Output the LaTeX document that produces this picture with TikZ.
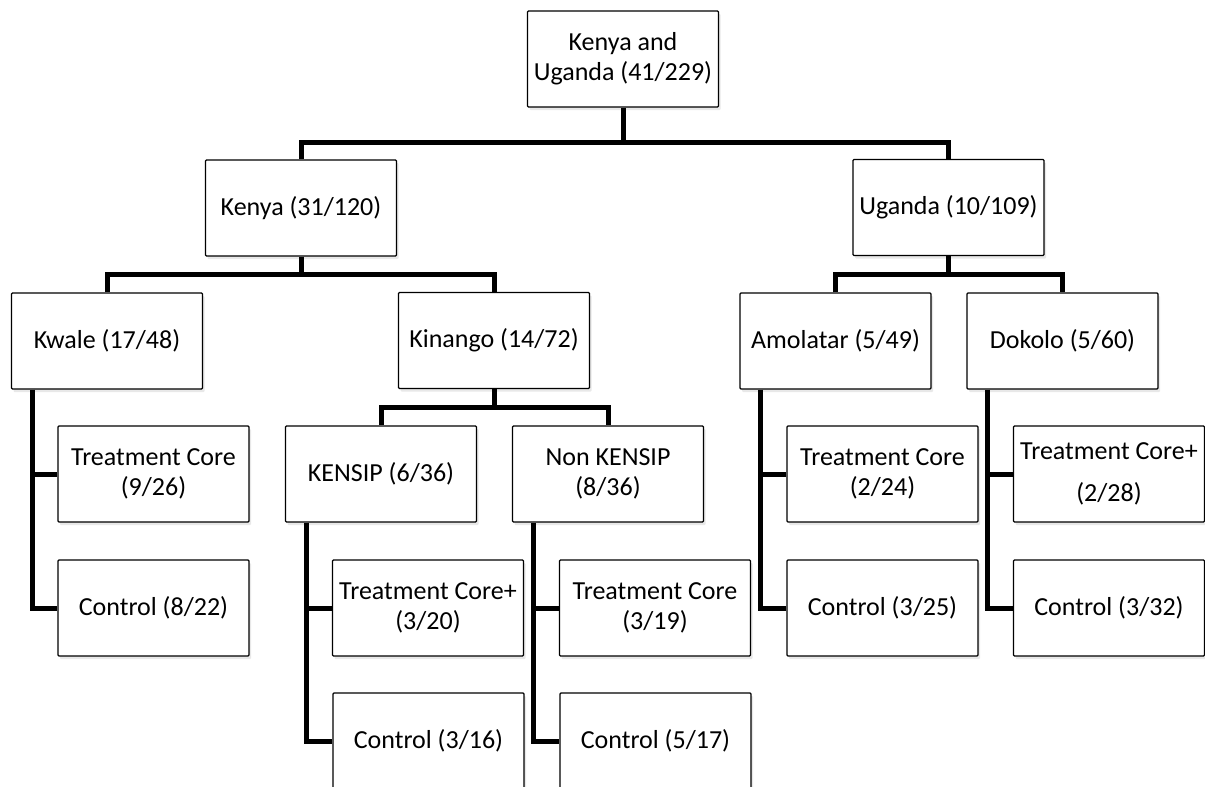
\documentclass[tikz,border=0pt]{standalone}
\usepackage{fontspec}
\setmainfont{Carlito}
\usetikzlibrary{shadows}
\begin{document}
\begin{tikzpicture}[x=1pt,y=-1pt,
  box/.style={draw=black, line width=1.3pt, fill=white, rounded corners=1pt,
    minimum width=191pt, minimum height=96pt, inner sep=0pt, align=center,
    font=\fontsize{26}{30}\selectfont,
    drop shadow={opacity=0.18, shadow xshift=2pt, shadow yshift=-3pt}},
  conn/.style={line width=5pt, line join=miter, line cap=butt}]
\useasboundingbox (0,0) rectangle (1205,787);
\clip (0,0) rectangle (1205,787);
\fill[white] (0,0) rectangle (1205,787);

% nodes
\node[box] (root) at (623,59) {Kenya and\\Uganda (41/229)};
\node[box] (kenya) at (301,208) {Kenya (31/120)};
\node[box] (uganda) at (948.5,207.5) {Uganda (10/109)};
\node[box] (kwale) at (107,341) {Kwale (17/48)};
\node[box] (kinango) at (494,340.5) {Kinango (14/72)};
\node[box] (amolatar) at (835.5,341) {Amolatar (5/49)};
\node[box] (dokolo) at (1062.5,341) {Dokolo (5/60)};
\node[box] (tcA) at (153.5,474) {Treatment Core\\(9/26)};
\node[box] (ctA) at (153.5,608) {Control (8/22)};
\node[box] (kensip) at (381,474) {KENSIP (6/36)};
\node[box] (nonkensip) at (608,474) {Non KENSIP\\(8/36)};
\node[box] (tcB) at (428,608) {Treatment Core+\\(3/20)};
\node[box] (ctB) at (428.5,741) {Control (3/16)};
\node[box] (tcC) at (655,608) {Treatment Core\\(3/19)};
\node[box] (ctC) at (655.5,741) {Control (5/17)};
\node[box] (tcD) at (882.5,474) {Treatment Core\\(2/24)};
\node[box] (ctD) at (882.5,608) {Control (3/25)};
\node[box] (tcE) at (1109,474) {Treatment Core+\\[12pt](2/28)};
\node[box] (ctE) at (1109,608) {Control (3/32)};

% level buses
\draw[conn] (root.south) -- ++(0,36);
\draw[conn] (kenya.north) -- ++(0,-17) -| (uganda.north);
\draw[conn] (kenya.south) -- ++(0,18);
\draw[conn] (kwale.north) -- ++(0,-18) -| (kinango.north);
\draw[conn] (uganda.south) -- ++(0,19);
\draw[conn] (amolatar.north) -- ++(0,-18) -| (dokolo.north);
\draw[conn] (kinango.south) -- ++(0,20);
\draw[conn] (kensip.north) -- ++(0,-18) -| (nonkensip.north);

% side branches
\coordinate (vA) at ([xshift=-75pt]kwale.south);
\draw[conn] (vA) |- (ctA.west);
\draw[conn] (tcA.west) -- (tcA.west -| vA);
\coordinate (vB) at ([xshift=-75pt]kensip.south);
\draw[conn] (vB) |- (ctB.west);
\draw[conn] (tcB.west) -- (tcB.west -| vB);
\coordinate (vC) at ([xshift=-75pt]nonkensip.south);
\draw[conn] (vC) |- (ctC.west);
\draw[conn] (tcC.west) -- (tcC.west -| vC);
\coordinate (vD) at ([xshift=-75.5pt]amolatar.south);
\draw[conn] (vD) |- (ctD.west);
\draw[conn] (tcD.west) -- (tcD.west -| vD);
\coordinate (vE) at ([xshift=-75.5pt]dokolo.south);
\draw[conn] (vE) |- (ctE.west);
\draw[conn] (tcE.west) -- (tcE.west -| vE);
\end{tikzpicture}
\end{document}
